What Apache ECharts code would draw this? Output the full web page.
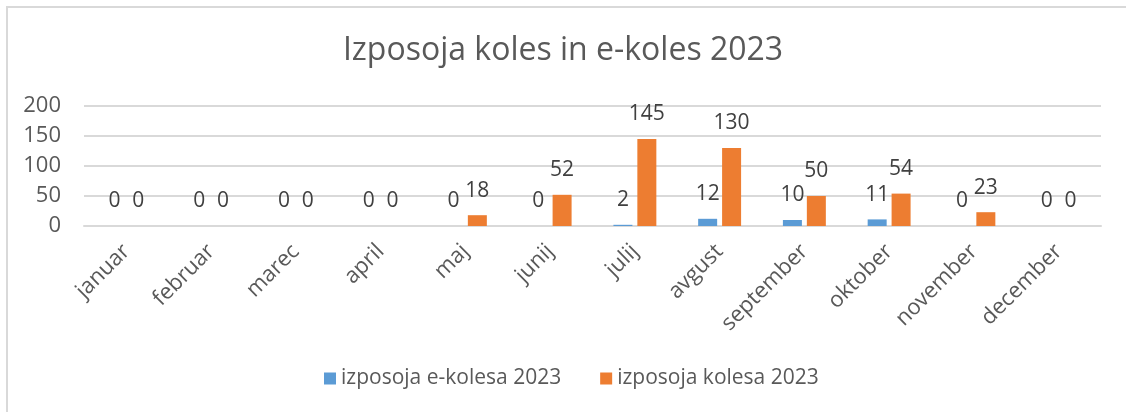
<!DOCTYPE html>
<html>
<head>
<meta charset="utf-8">
<script src="https://cdn.jsdelivr.net/npm/echarts@6/dist/echarts.min.js"></script>
<style>
  html, body { margin: 0; padding: 0; background: #fff; }
  #frame {
    position: absolute; left: 6px; top: 6px; width: 1120px; height: 406px;
    border-top: 2px solid #d9d9d9; border-left: 2px solid #d9d9d9;
  }
  #chart { position: absolute; left: 0; top: 0; width: 1126px; height: 412px; }
</style>
</head>
<body>
<div id="frame"></div>
<div id="chart"></div>
<script>
const months = ['januar', 'februar', 'marec', 'april', 'maj', 'junij',
  'julij', 'avgust', 'september', 'oktober', 'november', 'december'];
const eBikes = [0, 0, 0, 0, 0, 0, 2, 12, 10, 11, 0, 0];
const bikes = [0, 0, 0, 0, 18, 52, 145, 130, 50, 54, 23, 0];

const chart = echarts.init(document.getElementById('chart'));

const labelStyle = {
  show: true,
  position: 'top',
  distance: 14,
  color: '#404040',
  fontSize: 21,
  fontFamily: 'Open Sans'
};

chart.setOption({
  textStyle: { fontFamily: 'Open Sans' },
  title: {
    text: 'Izposoja koles in e-koles 2023',
    left: 'center',
    top: 30,
    textStyle: { color: '#595959', fontSize: 32, fontWeight: 'normal', fontFamily: 'Open Sans' }
  },
  legend: {
    bottom: 18,
    left: 319,
    itemWidth: 12,
    itemHeight: 12,
    itemGap: 39,
    icon: 'rect',
    textStyle: { color: '#595959', fontSize: 21 },
    data: ['izposoja e-kolesa 2023', 'izposoja kolesa 2023']
  },
  grid: { left: 84, right: 25, top: 106, bottom: 186 },
  xAxis: {
    type: 'category',
    data: months,
    axisLine: { lineStyle: { color: '#d9d9d9', width: 2 } },
    axisTick: { show: false },
    axisLabel: { rotate: 45, color: '#595959', fontSize: 22, margin: 22, interval: 0 }
  },
  yAxis: {
    type: 'value',
    min: 0,
    max: 200,
    interval: 50,
    axisLine: { show: false },
    axisTick: { show: false },
    axisLabel: { color: '#595959', fontSize: 22, margin: 23 },
    splitLine: { lineStyle: { color: '#d9d9d9', width: 2 } }
  },
  series: [
    {
      name: 'izposoja e-kolesa 2023',
      type: 'bar',
      data: eBikes,
      barWidth: 19,
      barGap: '26%',
      itemStyle: { color: '#5b9bd5' },
      label: labelStyle
    },
    {
      name: 'izposoja kolesa 2023',
      type: 'bar',
      data: bikes,
      barWidth: 19,
      itemStyle: { color: '#ed7d31' },
      label: labelStyle
    }
  ]
});
</script>
</body>
</html>
